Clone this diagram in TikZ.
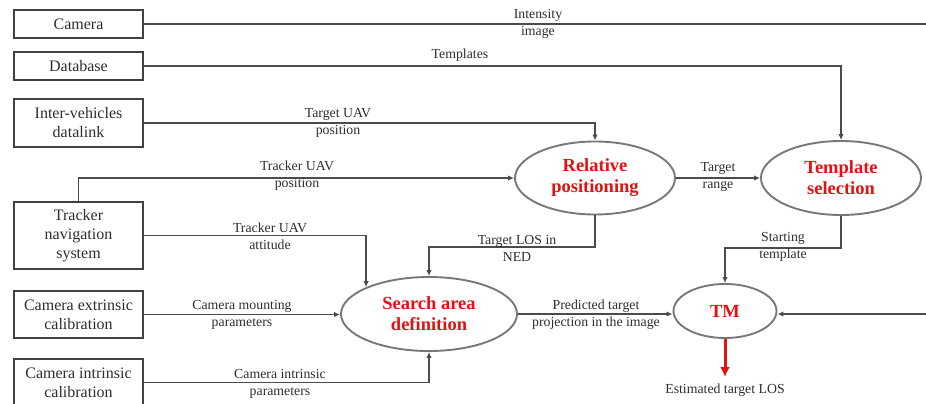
\documentclass[tikz,border=0pt]{standalone}
\usepackage{fontspec}
\setmainfont{Liberation Serif}
\usetikzlibrary{arrows.meta,shapes.geometric}

\definecolor{boxline}{RGB}{65,65,65}
\definecolor{wire}{RGB}{75,75,75}
\definecolor{ellline}{RGB}{120,120,120}
\definecolor{procred}{RGB}{225,18,18}
\definecolor{txt}{RGB}{45,45,45}

\tikzset{
  srcbox/.style={draw=boxline, line width=1.7pt, rectangle, minimum width=129pt,
    inner sep=1pt, align=center, text=txt, font=\fontsize{16}{19}\selectfont},
  process/.style={draw=ellline, line width=1.9pt, ellipse, inner sep=0pt,
    align=center, text=procred, font=\fontsize{18.5}{21}\selectfont\bfseries},
  flow/.style={draw=wire, line width=1.5pt, -{Latex[length=6pt,width=5.5pt]}},
  plain/.style={draw=wire, line width=1.5pt},
  output/.style={draw=procred, line width=3pt, -{Latex[length=10pt,width=10pt]}},
  lbl/.style={align=center, text=txt, inner sep=0pt, font=\fontsize{13.8}{17}\selectfont},
}

\begin{document}
\begin{tikzpicture}[x=1pt, y=-1pt]
  \useasboundingbox (0,0) rectangle (926,404);

  % input sources
  \node[srcbox, minimum height=28pt] (cam)  at (78.5,24)    {Camera};
  \node[srcbox, minimum height=28pt] (db)   at (78.5,66)    {Database};
  \node[srcbox, minimum height=48pt] (ivd)  at (78.5,123)   {Inter-vehicles\\datalink};
  \node[srcbox, minimum height=67pt] (tns)  at (78.5,235.5) {Tracker\\navigation\\system};
  \node[srcbox, minimum height=47pt] (cext) at (78.5,314.5) {Camera extrinsic\\calibration};
  \node[srcbox, minimum height=47pt] (cint) at (78.5,382.5) {Camera intrinsic\\calibration};

  % processing steps
  \node[process, minimum width=160pt, minimum height=73pt] (rel)  at (595,178) {Relative\\positioning};
  \node[process, minimum width=160pt, minimum height=74pt] (tsel) at (841,178) {Template\\selection};
  \node[process, minimum width=176pt, minimum height=74pt] (sad)  at (429,314) {Search area\\definition};
  \node[process, minimum width=103pt, minimum height=54pt] (tm)   at (725,311) {TM};

  % free ends
  \coordinate (camend) at (926,24);
  \coordinate (tmin)   at (926,314);
  \coordinate (losout) at (725,377);

  % connectors
  \draw[plain] (cam.east) -- (camend);
  \draw[flow] (db.east) -| (tsel.north);
  \draw[flow] (ivd.east) -| (rel.north);
  \draw[flow] (tns.north) |- (rel.west);
  \draw[flow] (tns.east) -| (sad.north west);
  \draw[flow] (rel.south) -- ++(0,31.5) -| (sad.north);
  \draw[flow] (rel.east) -- (tsel.west);
  \draw[flow] (tsel.south) -- ++(0,32) -| (tm.north);
  \draw[flow] (cext.east) -- (cext.east -| sad.west);
  \draw[flow] (cint.east) -| (sad.south);
  \draw[flow] (sad.east) -- (tm.west |- sad.east);
  \draw[flow] (tmin) -- (tm.east |- tmin);
  \draw[output] (tm.south) -- (losout);

  % connector labels
  \node[lbl] (l-int)  at (538,24)    {Intensity\\image};
  \node[lbl] (l-tpl)  at (460,55)    {Templates};
  \node[lbl] (l-tpos) at (338,122.5) {Target UAV\\position};
  \node[lbl] (l-kpos) at (297,176)   {Tracker UAV\\position};
  \node[lbl] (l-katt) at (270,236.5) {Tracker UAV\\attitude};
  \node[lbl] (l-los)  at (517,248)   {Target LOS in\\NED};
  \node[lbl] (l-rng)  at (718,176.5) {Target\\range};
  \node[lbl] (l-stt)  at (783,246.5) {Starting\\template};
  \node[lbl] (l-mnt)  at (242,314.5) {Camera mounting\\parameters};
  \node[lbl] (l-intr) at (280,383.5) {Camera intrinsic\\parameters};
  \node[lbl] (l-pred) at (596,315)   {Predicted target\\projection in the image};
  \node[lbl] (l-est)  at (725,390)   {Estimated target LOS};
\end{tikzpicture}
\end{document}
